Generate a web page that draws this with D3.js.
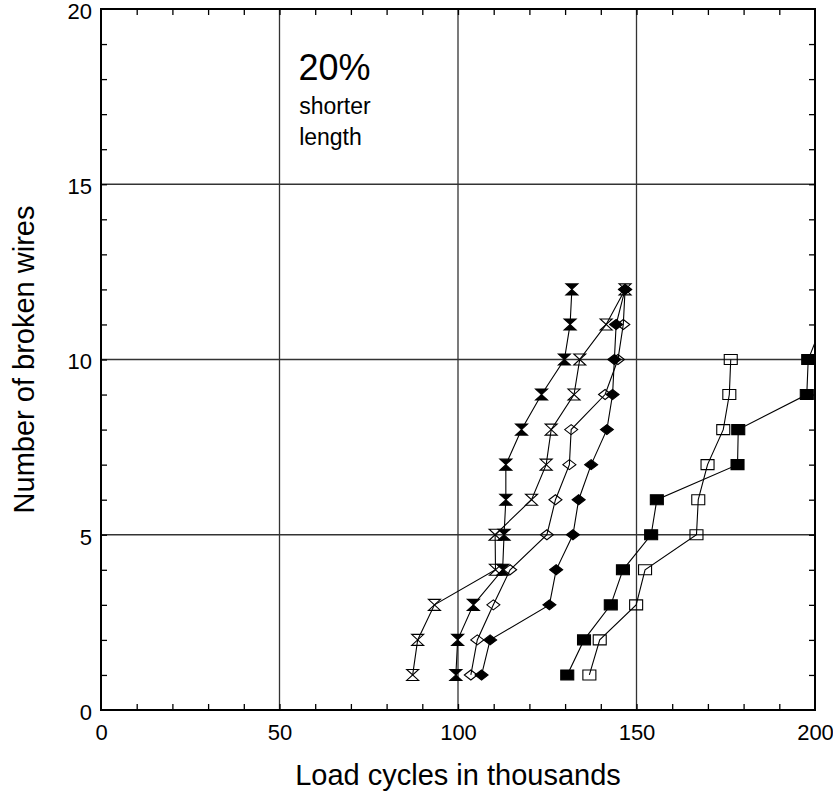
<!DOCTYPE html>
<html>
<head>
<meta charset="utf-8">
<script src="https://cdn.jsdelivr.net/npm/d3@7"></script>
<style>
    body { margin: 0; background: #fff; }
    text { font-family: 'Liberation Sans', Arial, sans-serif; fill: #000; }
</style>
</head>
<body>
<script>
(function () {

    'use strict'

    const margin = { top: 9, right: 18, bottom: 84, left: 101 }
        , width = 833 - margin.left - margin.right
        , height = 794 - margin.top - margin.bottom

    // number of broken wires (y) for each reading
    const brokenWires = [1, 2, 3, 4, 5, 6, 7, 8, 9, 10, 11, 12]

    // load cycles in thousands (x), one array per test rope
    const filledHourglass = [99.4, 99.9, 104.3, 112.5, 112.9, 113.4, 113.4, 117.8, 123.4, 129.8, 131.4, 131.9]
    const openHourglass = [87.3, 88.7, 93.4, 110.5, 110.4, 120.6, 124.7, 126.1, 132.5, 134.1, 141.5, 146.8]
    const openDiamond = [103.6, 105.4, 109.9, 114.6, 124.9, 127.3, 131.2, 131.7, 141.2, 144.8, 146.3, 146.8]
    const filledDiamond = [106.6, 109.0, 125.6, 127.5, 132.2, 133.8, 137.3, 141.7, 143.3, 143.8, 144.3, 146.8]
    const filledSquare = [130.6, 135.3, 142.8, 146.2, 154.1, 155.7, 178.3, 178.5, 197.7, 198.1, 202.0]
    const openSquare = [136.8, 139.7, 149.9, 152.4, 166.8, 167.3, 169.9, 174.3, 176.0, 176.4]

    const xTicks = [0, 50, 100, 150, 200]
    const yTicks = [0, 5, 10, 15, 20]

    const series = [
        { name: 'openHourglass', x: openHourglass, shape: 'hourglass', filled: false },
        { name: 'filledHourglass', x: filledHourglass, shape: 'hourglass', filled: true },
        { name: 'openDiamond', x: openDiamond, shape: 'diamond', filled: false },
        { name: 'filledDiamond', x: filledDiamond, shape: 'diamond', filled: true },
        { name: 'filledSquare', x: filledSquare, shape: 'square', filled: true },
        { name: 'openSquare', x: openSquare, shape: 'square', filled: false }
    ]

    const svg = d3.select('body')
        .append('svg')
        .attr('width', 833)
        .attr('height', 794)

    const g = svg.append('g')
        .attr('transform', 'translate(' + margin.left + ',' + margin.top + ')')

    const xScale = d3.scaleLinear().domain([0, 200]).range([0, width])
    const yScale = d3.scaleLinear().domain([0, 20]).range([height, 0])

    g.append('clipPath')
        .attr('id', 'plot-clip')
        .append('rect')
        .attr('width', width)
        .attr('height', height)

    // grid lines
    g.selectAll('.vgrid')
        .data([50, 100, 150])
        .enter()
        .append('line')
        .attr('x1', d => xScale(d))
        .attr('x2', d => xScale(d))
        .attr('y1', 0)
        .attr('y2', height)
        .attr('stroke', '#333')
        .attr('stroke-width', 1.3)

    g.selectAll('.hgrid')
        .data([5, 10, 15])
        .enter()
        .append('line')
        .attr('x1', 0)
        .attr('x2', width)
        .attr('y1', d => yScale(d))
        .attr('y2', d => yScale(d))
        .attr('stroke', '#333')
        .attr('stroke-width', 1.3)

    // minor ticks on all four sides, pointing inwards
    const xMinor = d3.range(10, 200, 10)
    const yMinor = d3.range(1, 20, 1)

    const tickAxis = (axis, transform) => g.append('g')
        .attr('transform', transform)
        .call(axis)
        .call(a => a.select('.domain').remove())
        .call(a => a.selectAll('text').remove())
        .call(a => a.selectAll('line').attr('stroke', '#000').attr('stroke-width', 1.3))

    tickAxis(d3.axisTop(xScale).tickValues(xMinor).tickSize(6), 'translate(0,' + height + ')')
    tickAxis(d3.axisBottom(xScale).tickValues(xMinor).tickSize(6), 'translate(0,0)')
    tickAxis(d3.axisRight(yScale).tickValues(yMinor).tickSize(6), 'translate(0,0)')
    tickAxis(d3.axisLeft(yScale).tickValues(yMinor).tickSize(6), 'translate(' + width + ',0)')

    // tick labels
    g.append('g')
        .attr('transform', 'translate(0,' + height + ')')
        .call(d3.axisBottom(xScale).tickValues(xTicks).tickSize(0).tickPadding(14))
        .call(a => a.select('.domain').remove())
        .selectAll('text')
        .style('font-size', '22px')
        .style('font-family', "'Liberation Sans', Arial, sans-serif")

    g.append('g')
        .call(d3.axisLeft(yScale).tickValues(yTicks).tickSize(0).tickPadding(9))
        .call(a => a.select('.domain').remove())
        .selectAll('text')
        .attr('dy', '0.42em')
        .style('font-size', '22px')
        .style('font-family', "'Liberation Sans', Arial, sans-serif")

    // data lines and markers
    const line = d3.line()
        .x(d => xScale(d.x))
        .y(d => yScale(d.y))

    const shapes = {
        hourglass: 'M-6,-5.5H6L-6,5.5H6Z',
        diamond: 'M-6.5,0L0,-5L6.5,0L0,5Z',
        square: 'M-6.5,-5H6.5V5H-6.5Z'
    }

    const dataG = g.append('g').attr('clip-path', 'url(#plot-clip)')

    series.forEach(s => {
        const points = s.x.map((x, i) => ({ x: x, y: brokenWires[i] }))

        dataG.append('path')
            .datum(points)
            .attr('d', line)
            .attr('fill', 'none')
            .attr('stroke', '#000')
            .attr('stroke-width', 1.1)

        dataG.selectAll('.' + s.name)
            .data(points)
            .enter()
            .append('path')
            .attr('class', s.name)
            .attr('transform', d => 'translate(' + xScale(d.x) + ',' + yScale(d.y) + ')')
            .attr('d', shapes[s.shape])
            .attr('fill', s.filled ? '#000' : 'none')
            .attr('stroke', '#000')
            .attr('stroke-width', 1.1)
    })

    // frame
    g.append('rect')
        .attr('width', width)
        .attr('height', height)
        .attr('fill', 'none')
        .attr('stroke', '#000')
        .attr('stroke-width', 2)

    // annotation
    g.append('text')
        .attr('x', xScale(55.3))
        .attr('y', 71)
        .style('font-size', '36px')
        .text('20%')

    g.append('text')
        .attr('x', xScale(55.5))
        .attr('y', 105)
        .style('font-size', '23px')
        .text('shorter')

    g.append('text')
        .attr('x', xScale(55.5))
        .attr('y', 136)
        .style('font-size', '23px')
        .text('length')

    // axis labels
    svg.append('text')
        .attr('x', margin.left + width / 2)
        .attr('y', 785)
        .attr('text-anchor', 'middle')
        .style('font-size', '29px')
        .text('Load cycles in thousands')

    svg.append('text')
        .attr('transform', 'translate(34,' + (margin.top + height / 2) + ') rotate(-90)')
        .attr('text-anchor', 'middle')
        .style('font-size', '29px')
        .text('Number of broken wires')
})()
</script>
</body>
</html>
